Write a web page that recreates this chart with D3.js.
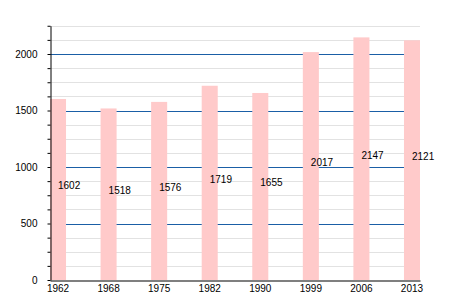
<!DOCTYPE html>
<html><head><meta charset="utf-8">
<script src="https://cdn.jsdelivr.net/npm/d3@7"></script>
<style>body{margin:0;background:#fff}svg{display:block}text{font-family:"Liberation Sans",Arial,sans-serif;font-size:10px;fill:#000}</style>
</head><body><svg id="c" width="450" height="300"></svg>
<script>
const years = ["1962","1968","1975","1982","1990","1999","2006","2013"];
const population = [1602,1518,1576,1719,1655,2017,2147,2121];
const yTickValues = d3.range(0, 2251, 125);
const yLabelValues = [0,500,1000,1500,2000];

const svg = d3.select("#c");
const left = 50, right = 420, bottom = 280;
const y = d3.scaleLinear().domain([0,2250]).range([bottom, 25.75]);
const x = d3.scaleBand().domain(years).range([left, right]).paddingInner(0.683).paddingOuter(0).align(0);

const defs = svg.append("defs");
defs.append("filter").attr("id","soft").attr("x","-20%").attr("y","-5%").attr("width","140%").attr("height","110%")
  .append("feGaussianBlur").attr("stdDeviation",0.6);

// grid
svg.append("g").selectAll("line").data(yTickValues.filter(v=>v>0))
  .join("line")
  .attr("x1",left).attr("x2",right)
  .attr("y1",d=>Math.round(y(d))+0.5).attr("y2",d=>Math.round(y(d))+0.5)
  .attr("stroke",d=>d%500===0?"#1a5ea6":"#e2e2e2").attr("stroke-width",1);

// bars
svg.append("g").attr("filter","url(#soft)").selectAll("rect").data(population)
  .join("rect")
  .attr("x",(d,i)=>x(years[i])).attr("width",x.bandwidth())
  .attr("y",d=>y(d)).attr("height",d=>bottom-y(d))
  .attr("fill","#ffcaca");

// value labels
svg.append("g").selectAll("text").data(population)
  .join("text")
  .attr("x",(d,i)=>x(years[i])+x.bandwidth()/2)
  .attr("y",d=>y(d/2))
  .text(d=>d);

// y axis
const ya = svg.append("g").attr("transform",`translate(${left+0.5},0)`)
  .call(d3.axisLeft(y).tickValues(yTickValues).tickSize(3).tickSizeOuter(0).tickPadding(10)
    .tickFormat(d=>yLabelValues.includes(d)?d:""));
ya.selectAll("line").attr("stroke","#000");
ya.select(".domain").attr("stroke","#000");
ya.selectAll("text").style("font-family",'"Liberation Sans",Arial,sans-serif').style("font-size","10px");

// x axis
const xa = svg.append("g").attr("transform",`translate(0,${bottom+0.5})`)
  .call(d3.axisBottom(x).tickSize(0).tickSizeOuter(0).tickPadding(4));
xa.select(".domain").attr("stroke","#000").attr("stroke-width",1.2);
xa.selectAll("text").style("font-family",'"Liberation Sans",Arial,sans-serif').style("font-size","10px");
</script></body></html>
